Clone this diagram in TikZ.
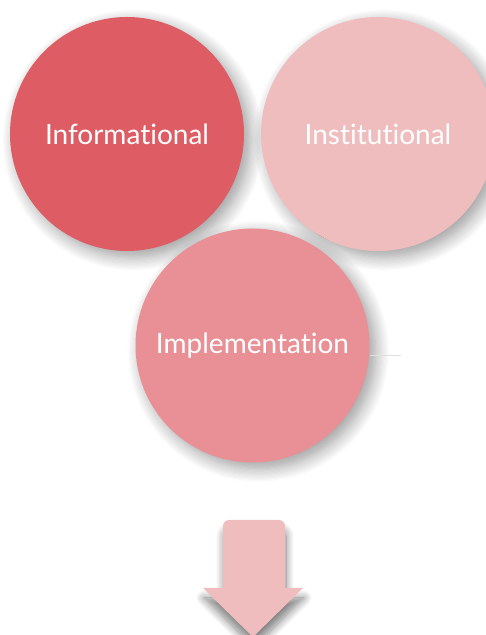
\documentclass[tikz,border=0pt]{standalone}
\usepackage{fontspec}
\setmainfont{Lato}[Ligatures={NoCommon}]
\usetikzlibrary{shadows.blur}
\definecolor{darkrose}{HTML}{DE5C64}
\definecolor{midrose}{HTML}{E89095}
\definecolor{lightrose}{HTML}{EFBDBE}
\tikzstyle{bubble} = [circle, minimum size=234pt, inner sep=0pt, text=white,
  font=\fontsize{28}{30}\selectfont,
  blur shadow={shadow xshift=6pt, shadow yshift=-6pt, shadow blur radius=14pt, shadow blur steps=12, shadow opacity=40}]

\begin{document}
\begin{tikzpicture}[x=1pt, y=1pt]
    \useasboundingbox (0,0) rectangle (485,635);
    \node[bubble, fill=darkrose] (info) at (127,501) {Informational};
    \node[bubble, fill=lightrose] (inst) at (378,501) {Institutional};
    \node[bubble, fill=midrose] (impl) at (252.5,289.5) {Implementation};
    \draw[black!12, line width=0.6pt] (impl.east) ++(0,-10) coordinate (rim) -- ++(31,0);
    % arrow below
    \fill[lightrose, blur shadow={shadow xshift=1pt, shadow yshift=-10pt, shadow blur radius=8pt, shadow blur steps=10, shadow opacity=50}]
        (203,47) -- (223,47) [rounded corners=6pt] -- (223,115) -- (285,115) [sharp corners] -- (285,47)
        -- (303,47) -- (253,-2) -- cycle;
\end{tikzpicture}
\end{document}
